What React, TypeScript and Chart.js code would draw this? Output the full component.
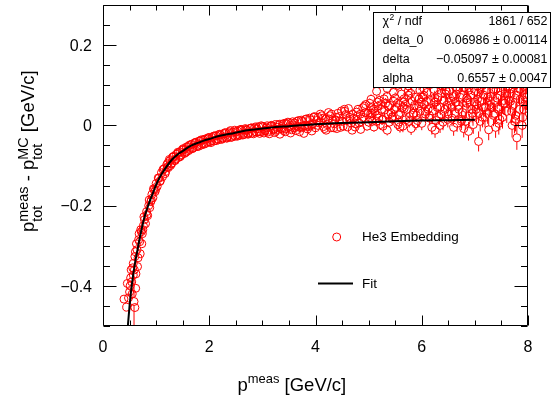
import React, { useEffect, useRef } from 'react';
import { Chart, registerables } from 'chart.js';

Chart.register(...registerables);

// ---- data ----
const pMeas = [
  0.395, 0.446, 0.458, 0.51, 0.53, 0.54, 0.55, 0.57, 0.57, 0.584,
  0.6, 0.6, 0.615, 0.62, 0.63, 0.65, 0.66, 0.67, 0.68, 0.7,
  0.72, 0.73, 0.74, 0.76, 0.78, 0.8, 0.82, 0.84, 0.86, 0.88,
  0.9, 0.92, 0.94, 0.96, 0.98, 1.0, 1.02, 1.05, 1.07, 1.1,
  1.12, 1.15, 1.18, 1.2, 1.23, 1.26, 1.29, 1.32, 1.35, 1.38,
  1.42, 1.45, 1.48, 1.52, 1.55, 1.6, 1.63, 1.67, 1.7, 1.75,
  1.78, 1.83, 1.87, 1.92, 1.96, 2.0, 2.05, 2.1, 2.15, 2.2,
  2.25, 2.3, 2.35, 2.4, 2.45, 2.5, 2.55, 2.6, 2.65, 2.7,
  2.75, 2.8, 2.85, 2.9, 2.95, 3.0, 3.05, 3.1, 3.15, 3.2,
  3.25, 3.3, 3.35, 3.4, 3.45, 3.5, 3.55, 3.6, 3.65, 3.7,
  3.75, 3.8, 3.85, 3.9, 3.95, 4.0,
  4.05, 4.1, 4.15, 4.2, 4.25, 4.3, 4.35, 4.4, 4.45, 4.5,
  4.55, 4.6, 4.65, 4.7, 4.75, 4.8, 4.85, 4.9, 4.95, 5.0,
  5.02, 5.05, 5.1, 5.15, 5.2, 5.25, 5.3, 5.35, 5.4, 5.45,
  5.5, 5.55, 5.6, 5.65, 5.7, 5.75, 5.8, 5.85, 5.9, 5.95,
  6.0, 6.05, 6.1, 6.15, 6.2, 6.25, 6.3, 6.35, 6.4, 6.45,
  6.5, 6.55, 6.6, 6.65, 6.7, 6.75, 6.8, 6.85, 6.88, 6.95,
  7.0, 7.05, 7.07, 7.1, 7.15, 7.2, 7.26, 7.3, 7.35, 7.4,
  7.45, 7.5, 7.55, 7.6, 7.65, 7.7, 7.75, 7.79, 7.85, 7.9,
  7.95,
  4.02, 4.12, 4.22, 4.32, 4.42, 4.52, 4.62, 4.72, 4.82, 4.92,
  5.03, 5.12, 5.22, 5.32, 5.42, 5.52, 5.62, 5.72, 5.82, 5.92,
  6.02, 6.12, 6.22, 6.32, 6.42, 6.52, 6.62, 6.72, 6.82, 6.92,
  7.02, 7.12, 7.22, 7.32, 7.42, 7.52, 7.62, 7.72, 7.82, 7.92,
  7.98,
  5.15, 5.35, 5.55, 5.75, 5.95, 6.15, 6.35, 6.55, 6.75, 6.95,
  7.15, 7.35, 7.55, 7.75, 7.9,
  0.77, 0.83, 0.87, 0.91, 0.95, 0.99, 1.04, 1.08, 1.13, 1.17,
  1.22, 1.27, 1.31, 1.36, 1.41, 1.46, 1.51, 1.57, 1.62, 1.68,
  1.73, 1.8, 1.85, 1.9, 1.98, 2.03, 2.08, 2.13, 2.18, 2.23,
  2.28, 2.33, 2.38, 2.43, 2.48, 2.53, 2.58, 2.63, 2.68, 2.73,
  2.78, 2.83, 2.88, 2.93, 2.98, 3.03, 3.08, 3.13, 3.18, 3.23,
  3.28, 3.33, 3.38, 3.43, 3.48, 3.53, 3.58, 3.63, 3.68, 3.73,
  3.78, 3.83, 3.88, 3.93, 3.98,
  4.07, 4.17, 4.27, 4.37, 4.47, 4.57, 4.67, 4.77, 4.87, 4.97,
  4.09, 4.19, 4.29, 4.39, 4.49, 4.59, 4.69, 4.79, 4.89, 4.99,
  5.07, 5.17, 5.27, 5.37, 5.47, 5.57, 5.67, 5.77, 5.87, 5.97,
  5.09, 5.19, 5.29, 5.39, 5.49, 5.59, 5.69, 5.79, 5.89, 5.99,
  6.07, 6.17, 6.27, 6.37, 6.47, 6.57, 6.67, 6.77, 6.87, 6.97,
  6.09, 6.19, 6.29, 6.39, 6.49, 6.59, 6.69, 6.79, 6.89, 6.99,
  7.07, 7.17, 7.27, 7.37, 7.47, 7.57, 7.67, 7.77, 7.87, 7.97,
  7.09, 7.19, 7.29, 7.39, 7.49, 7.59, 7.69, 7.79, 7.89, 7.99,
  5.04, 5.24, 5.44, 5.64, 5.84, 6.04, 6.24, 6.44, 6.64, 6.84,
  7.04, 7.24, 7.44, 7.64, 7.84,
  0.48, 0.5, 0.52, 0.56, 0.59, 0.61, 0.64, 0.69, 0.71, 0.75,
  1.21, 1.25, 1.29, 1.33, 1.37, 1.41, 1.45, 1.49, 1.53, 1.57,
  1.61, 1.65, 1.69, 1.73, 1.77, 1.81, 1.85, 1.89, 1.93, 1.97,
  2.01, 2.05, 2.09, 2.13, 2.17, 2.21, 2.25, 2.29, 2.33, 2.37,
  2.41, 2.45, 2.49, 2.53, 2.57, 2.61, 2.65, 2.69, 2.73, 2.77,
  2.81, 2.85, 2.89, 2.93, 2.97, 3.01, 3.05, 3.09, 3.13, 3.17,
  3.21, 3.25, 3.29, 3.33, 3.37, 3.41, 3.45, 3.49, 3.53, 3.57,
  3.61, 3.65, 3.69, 3.73, 3.77, 3.81, 3.85, 3.89, 3.93, 3.97,
  4.045, 4.145, 4.245, 4.345, 4.445, 4.545, 4.645, 4.745, 4.845, 4.945,
  5.045, 5.145, 5.245, 5.345, 5.445, 5.545, 5.645, 5.745, 5.845, 5.945,
  6.045, 6.145, 6.245, 6.345, 6.445, 6.545, 6.645, 6.745, 6.845, 6.945,
  7.045, 7.145, 7.245, 7.345, 7.445, 7.545, 7.645, 7.745, 7.845, 7.945,
  5.065, 5.165, 5.265, 5.365, 5.465, 5.565, 5.665, 5.765, 5.865, 5.965,
  6.065, 6.165, 6.265, 6.365, 6.465, 6.565, 6.665, 6.765, 6.865, 6.965,
  7.065, 7.165, 7.265, 7.365, 7.465, 7.565, 7.665, 7.765, 7.865,
];

const dP = [
  -0.433, -0.453, -0.394, -0.4, -0.36, -0.39, -0.42, -0.373, -0.344, -0.439,
  -0.454, -0.327, -0.406, -0.37, -0.295, -0.352, -0.33, -0.285, -0.27, -0.32,
  -0.265, -0.295, -0.27, -0.25, -0.235, -0.245, -0.215, -0.225, -0.2, -0.205,
  -0.19, -0.172, -0.18, -0.16, -0.165, -0.145, -0.152, -0.132, -0.14, -0.118,
  -0.128, -0.108, -0.115, -0.098, -0.105, -0.088, -0.096, -0.079, -0.088, -0.072,
  -0.08, -0.066, -0.073, -0.06, -0.068, -0.053, -0.06, -0.047, -0.055, -0.042,
  -0.05, -0.039, -0.046, -0.034, -0.042, -0.03, -0.038, -0.026, -0.034, -0.022,
  -0.031, -0.018, -0.028, -0.013, -0.025, -0.016, -0.023, -0.01, -0.02, -0.012,
  -0.018, -0.006, -0.015, -0.009, -0.02, -0.004, -0.012, -0.017, -0.002, -0.009,
  -0.015, 0.001, -0.007, -0.013, 0.004, -0.004, -0.011, 0.006, -0.002, -0.016,
  0.01, 0.0, -0.009, 0.014, 0.004, -0.006,
  0.02, 0.008, -0.003, -0.012, 0.016, 0.028, 0.004, -0.008, 0.022, 0.01,
  0.035, -0.004, 0.015, 0.028, 0.004, 0.04, -0.01, 0.02, 0.032, 0.008,
  0.055, 0.044, -0.004, 0.025, 0.062, 0.014, 0.038, -0.012, 0.05, 0.022,
  0.068, 0.002, 0.032, 0.058, 0.014, 0.075, -0.008, 0.044, 0.025, 0.066,
  0.005, 0.052, 0.082, 0.018, 0.036, -0.012, 0.07, 0.045, 0.008, 0.088,
  0.028, 0.06, -0.005, 0.078, 0.04, 0.015, 0.095, 0.055, -0.015, 0.03,
  0.085, 0.065, -0.04, 0.01, 0.1, 0.045, -0.011, 0.072, 0.025, 0.09,
  0.005, 0.14, 0.055, 0.035, 0.08, 0.0, 0.1, -0.031, 0.065, 0.02,
  0.058,
  0.012, 0.024, 0.002, 0.012, 0.03, -0.002, 0.042, 0.018, 0.006, 0.048,
  0.02, 0.035, 0.002, 0.055, 0.03, 0.045, 0.078, 0.04, 0.06, 0.012,
  0.07, 0.04, 0.09, 0.022, 0.062, 0.085, 0.03, 0.07, 0.01, 0.075,
  0.04, 0.06, 0.088, 0.045, 0.068, 0.02, 0.095, 0.05, 0.085, 0.04,
  0.08,
  0.085, 0.092, 0.1, 0.098, 0.105, 0.11, 0.1, 0.115, 0.105, 0.118,
  0.11, 0.12, 0.112, 0.12, 0.115,
  -0.228, -0.222, -0.186, -0.186, -0.158, -0.16, -0.131, -0.138, -0.11, -0.12,
  -0.094, -0.1, -0.079, -0.087, -0.067, -0.076, -0.058, -0.066, -0.05, -0.058,
  -0.043, -0.052, -0.036, -0.047, -0.031, -0.043, -0.027, -0.038, -0.023, -0.035,
  -0.02, -0.032, -0.016, -0.029, -0.012, -0.027, -0.011, -0.024, -0.008, -0.022,
  -0.007, -0.021, -0.004, -0.016, -0.001, -0.019, -0.006, -0.021, -0.001, -0.018,
  -0.005, -0.022, 0.002, -0.016, 0.008, -0.019, 0.001, -0.013, 0.012, -0.006,
  -0.02, 0.016, -0.003, -0.014, 0.022,
  0.006, -0.008, 0.024, 0.014, -0.005, 0.027, 0.006, 0.033, 0.015, -0.002,
  0.028, 0.016, -0.006, 0.02, 0.036, 0.012, -0.012, 0.024, 0.044, 0.03,
  0.01, 0.048, -0.002, 0.028, 0.06, 0.008, 0.042, 0.022, 0.07, 0.035,
  0.04, 0.018, 0.066, 0.008, 0.04, -0.004, 0.052, 0.08, 0.004, 0.058,
  0.028, 0.062, 0.012, 0.08, 0.05, 0.018, 0.092, 0.032, 0.064, 0.002,
  0.06, -0.005, 0.045, 0.098, 0.015, 0.072, 0.05, -0.008, 0.088, 0.058,
  0.03, 0.075, 0.05, 0.102, 0.015, 0.08, 0.06, 0.025, 0.105, 0.07,
  0.095, 0.02, 0.06, -0.005, 0.085, 0.108, 0.035, 0.075, 0.0, 0.05,
  0.03, 0.052, 0.016, 0.045, 0.03, 0.075, 0.058, 0.04, 0.058, 0.042,
  0.052, 0.03, 0.045, 0.062, 0.04,
  -0.43, -0.415, -0.38, -0.355, -0.36, -0.315, -0.31, -0.29, -0.26, -0.26,
  -0.104, -0.085, -0.094, -0.077, -0.084, -0.069, -0.078, -0.061, -0.07, -0.054,
  -0.063, -0.048, -0.057, -0.044, -0.053, -0.039, -0.049, -0.036, -0.045, -0.033,
  -0.041, -0.03, -0.039, -0.026, -0.036, -0.024, -0.033, -0.021, -0.031, -0.019,
  -0.03, -0.017, -0.027, -0.014, -0.025, -0.012, -0.023, -0.01, -0.021, -0.008,
  -0.019, -0.006, -0.017, -0.004, -0.016, -0.003, -0.014, -0.001, -0.012, 0.0,
  -0.011, 0.002, -0.01, 0.003, -0.009, 0.005, -0.008, 0.006, -0.007, 0.009,
  -0.006, 0.01, -0.004, 0.013, -0.003, 0.015, -0.002, 0.018, 0.0, 0.02,
  0.0, 0.018, 0.032, -0.006, 0.01, 0.04, 0.02, -0.004, 0.028, 0.052,
  0.065, 0.01, 0.04, 0.072, 0.02, 0.055, -0.002, 0.085, 0.03, 0.048,
  0.09, 0.025, 0.068, 0.0, 0.078, 0.05, 0.095, 0.01, 0.068, 0.04,
  0.098, 0.02, 0.07, 0.09, 0.04, 0.062, 0.11, 0.01, 0.09, 0.07,
  0.03, 0.058, 0.015, 0.048, 0.082, 0.026, 0.066, 0.01, 0.05, 0.088,
  0.035, 0.102, 0.058, 0.028, 0.085, 0.045, 0.005, 0.075, 0.1, 0.022,
  0.08, 0.045, 0.115, 0.03, 0.075, 0.055, 0.09, 0.015, 0.105,
];

const dPErr = [
  0.008, 0.01, 0.008, 0.008, 0.008, 0.008, 0.01, 0.008, 0.008, 0.06,
  0.01, 0.008, 0.008, 0.008, 0.008, 0.008, 0.008, 0.007, 0.007, 0.008,
  0.007, 0.007, 0.007, 0.007, 0.006, 0.006, 0.006, 0.006, 0.006, 0.006,
  0.006, 0.006, 0.006, 0.005, 0.005, 0.005, 0.005, 0.005, 0.005, 0.005,
  0.005, 0.005, 0.005, 0.005, 0.005, 0.005, 0.005, 0.005, 0.005, 0.005,
  0.005, 0.005, 0.005, 0.005, 0.005, 0.005, 0.005, 0.005, 0.005, 0.005,
  0.005, 0.005, 0.005, 0.005, 0.005, 0.005, 0.005, 0.005, 0.005, 0.005,
  0.005, 0.005, 0.005, 0.005, 0.005, 0.005, 0.005, 0.005, 0.005, 0.005,
  0.006, 0.006, 0.006, 0.006, 0.006, 0.006, 0.006, 0.006, 0.006, 0.006,
  0.006, 0.006, 0.006, 0.006, 0.006, 0.006, 0.007, 0.007, 0.007, 0.007,
  0.007, 0.007, 0.007, 0.007, 0.007, 0.008,
  0.008, 0.008, 0.008, 0.008, 0.008, 0.009, 0.009, 0.009, 0.009, 0.009,
  0.01, 0.01, 0.01, 0.01, 0.01, 0.011, 0.011, 0.011, 0.011, 0.012,
  0.012, 0.012, 0.012, 0.012, 0.013, 0.013, 0.013, 0.013, 0.014, 0.014,
  0.014, 0.014, 0.015, 0.015, 0.015, 0.016, 0.016, 0.016, 0.016, 0.017,
  0.017, 0.017, 0.018, 0.018, 0.018, 0.019, 0.019, 0.019, 0.02, 0.02,
  0.02, 0.021, 0.021, 0.021, 0.022, 0.022, 0.022, 0.023, 0.023, 0.023,
  0.024, 0.024, 0.025, 0.025, 0.025, 0.026, 0.026, 0.026, 0.027, 0.027,
  0.028, 0.14, 0.028, 0.029, 0.029, 0.03, 0.03, 0.03, 0.031, 0.032,
  0.033,
  0.008, 0.008, 0.008, 0.009, 0.009, 0.009, 0.01, 0.01, 0.011, 0.011,
  0.012, 0.012, 0.013, 0.013, 0.014, 0.014, 0.015, 0.015, 0.016, 0.016,
  0.017, 0.018, 0.018, 0.019, 0.02, 0.02, 0.021, 0.022, 0.022, 0.023,
  0.024, 0.025, 0.026, 0.026, 0.027, 0.028, 0.029, 0.03, 0.031, 0.032,
  0.033,
  0.013, 0.014, 0.014, 0.015, 0.017, 0.018, 0.019, 0.021, 0.022, 0.023,
  0.025, 0.026, 0.028, 0.03, 0.032,
  0.005, 0.005, 0.005, 0.005, 0.005, 0.005, 0.005, 0.005, 0.005, 0.005,
  0.005, 0.005, 0.005, 0.005, 0.005, 0.005, 0.005, 0.005, 0.005, 0.005,
  0.005, 0.005, 0.005, 0.005, 0.005, 0.005, 0.005, 0.005, 0.005, 0.005,
  0.005, 0.005, 0.005, 0.005, 0.005, 0.005, 0.005, 0.005, 0.005, 0.005,
  0.005, 0.005, 0.005, 0.005, 0.005, 0.006, 0.006, 0.006, 0.006, 0.006,
  0.006, 0.006, 0.006, 0.006, 0.006, 0.007, 0.007, 0.007, 0.007, 0.007,
  0.007, 0.007, 0.007, 0.007, 0.007,
  0.008, 0.008, 0.009, 0.009, 0.009, 0.01, 0.01, 0.011, 0.011, 0.011,
  0.008, 0.008, 0.009, 0.009, 0.009, 0.01, 0.01, 0.011, 0.011, 0.011,
  0.012, 0.012, 0.013, 0.013, 0.014, 0.014, 0.015, 0.015, 0.016, 0.016,
  0.012, 0.012, 0.013, 0.013, 0.014, 0.014, 0.015, 0.015, 0.016, 0.016,
  0.017, 0.018, 0.018, 0.019, 0.02, 0.02, 0.021, 0.022, 0.022, 0.023,
  0.017, 0.018, 0.018, 0.019, 0.02, 0.02, 0.021, 0.022, 0.022, 0.023,
  0.024, 0.025, 0.026, 0.026, 0.027, 0.028, 0.029, 0.03, 0.031, 0.032,
  0.024, 0.025, 0.026, 0.026, 0.027, 0.028, 0.029, 0.03, 0.031, 0.032,
  0.012, 0.013, 0.014, 0.015, 0.016, 0.017, 0.018, 0.02, 0.021, 0.022,
  0.024, 0.026, 0.027, 0.029, 0.031,
  0.008, 0.008, 0.008, 0.008, 0.008, 0.008, 0.008, 0.008, 0.008, 0.008,
  0.005, 0.005, 0.005, 0.005, 0.005, 0.005, 0.005, 0.005, 0.005, 0.005,
  0.005, 0.005, 0.005, 0.005, 0.005, 0.005, 0.005, 0.005, 0.005, 0.005,
  0.005, 0.005, 0.005, 0.005, 0.005, 0.005, 0.005, 0.005, 0.005, 0.005,
  0.005, 0.005, 0.005, 0.005, 0.005, 0.005, 0.005, 0.005, 0.005, 0.005,
  0.005, 0.005, 0.005, 0.005, 0.005, 0.006, 0.006, 0.006, 0.006, 0.006,
  0.006, 0.006, 0.006, 0.006, 0.006, 0.006, 0.006, 0.006, 0.007, 0.007,
  0.007, 0.007, 0.007, 0.007, 0.007, 0.007, 0.007, 0.007, 0.007, 0.007,
  0.008, 0.008, 0.009, 0.009, 0.009, 0.01, 0.01, 0.011, 0.011, 0.011,
  0.012, 0.012, 0.013, 0.013, 0.014, 0.014, 0.015, 0.015, 0.016, 0.016,
  0.017, 0.018, 0.018, 0.019, 0.02, 0.02, 0.021, 0.022, 0.022, 0.023,
  0.024, 0.025, 0.026, 0.026, 0.027, 0.028, 0.029, 0.03, 0.031, 0.032,
  0.012, 0.012, 0.013, 0.013, 0.014, 0.014, 0.015, 0.015, 0.016, 0.016,
  0.017, 0.018, 0.018, 0.019, 0.02, 0.02, 0.021, 0.022, 0.022, 0.023,
  0.024, 0.025, 0.026, 0.026, 0.027, 0.028, 0.029, 0.03, 0.031,
];

// fit curve
const fitP = [
  0.455, 0.5, 0.54, 0.6, 0.65, 0.7, 0.75, 0.8, 0.85, 0.9,
  0.95, 1.0, 1.1, 1.2, 1.3, 1.4, 1.5, 1.6, 1.7, 1.8,
  1.9, 2.0, 2.2, 2.4, 2.6, 2.8, 3.0, 3.25, 3.5, 4.0,
  4.5, 5.0, 5.5, 6.0, 6.5, 7.0,
];
const fitD = [
  -0.52, -0.45, -0.4, -0.345, -0.31, -0.275, -0.245, -0.22, -0.2, -0.182,
  -0.165, -0.148, -0.122, -0.102, -0.085, -0.073, -0.064, -0.055, -0.048, -0.043,
  -0.038, -0.034, -0.026, -0.021, -0.015, -0.011, -0.008, -0.004, -0.002, 0.003,
  0.006, 0.008, 0.01, 0.012, 0.013, 0.014,
];

const xTickValues = [0, 2, 4, 6, 8];
const yTickValues = [-0.4, -0.2, 0, 0.2];
const statsLabels = ['χ', 'delta_0', 'delta', 'alpha'];
const statsValues = ['1861 / 652', '0.06986 ± 0.00114', '−0.05097 ± 0.00081', '0.6557 ± 0.0047'];
const legendLabels = ['He3 Embedding', 'Fit'];

const FONT = '"Liberation Sans", Arial, Helvetica, sans-serif';
const RED = 'rgb(255,0,0)';
const R = 4;

type Piece = { t?: string; sup?: string; sub?: string };

function drawRich(
  ctx: CanvasRenderingContext2D, pieces: Piece[], x: number, y: number, size: number,
  ratio: number, supDy: number, subDy: number,
) {
  let cx = x;
  ctx.textAlign = 'left';
  ctx.textBaseline = 'alphabetic';
  for (const p of pieces) {
    if (p.t) {
      ctx.font = `${size}px ${FONT}`;
      ctx.fillText(p.t, cx, y);
      cx += ctx.measureText(p.t).width;
    } else {
      const s = size * ratio;
      ctx.font = `${s}px ${FONT}`;
      let w = 0;
      if (p.sup) {
        ctx.fillText(p.sup, cx, y - size * supDy);
        w = Math.max(w, ctx.measureText(p.sup).width);
      }
      if (p.sub) {
        ctx.fillText(p.sub, cx, y + size * subDy);
        w = Math.max(w, ctx.measureText(p.sub).width);
      }
      cx += w;
    }
  }
}

const fmt = (v: number) => {
  if (Math.abs(v) < 1e-9) return '0';
  const s = String(Math.round(Math.abs(v) * 100) / 100);
  return v < 0 ? '−' + s : s;
};

const rootPlugin = {
  id: 'rootStyle',
  beforeDatasetsDraw(chart: any) {
    const { ctx, chartArea: a, scales } = chart;
    const xs = scales.x, ys = scales.y;
    ctx.save();
    ctx.beginPath();
    ctx.rect(a.left, a.top, a.right - a.left, a.bottom - a.top);
    ctx.clip();
    ctx.strokeStyle = RED;
    ctx.lineWidth = 1;
    ctx.beginPath();
    for (let i = 0; i < pMeas.length; i++) {
      const px = xs.getPixelForValue(pMeas[i]);
      const py = ys.getPixelForValue(dP[i]);
      const up = ys.getPixelForValue(dP[i] + dPErr[i]);
      const dn = ys.getPixelForValue(dP[i] - dPErr[i]);
      if (py - up > R) { ctx.moveTo(px, py - R); ctx.lineTo(px, up); }
      if (dn - py > R) { ctx.moveTo(px, py + R); ctx.lineTo(px, dn); }
    }
    ctx.stroke();
    ctx.restore();
  },
  afterDatasetsDraw(chart: any) {
    const { ctx, chartArea: a, scales } = chart;
    const xs = scales.x, ys = scales.y;
    const L = Math.round(a.left) + 0.5, Rr = Math.round(a.right) - 0.5;
    const T = Math.round(a.top) + 0.5, B = Math.round(a.bottom) - 0.5;
    ctx.save();
    ctx.strokeStyle = '#000';
    ctx.lineWidth = 1;
    ctx.beginPath();
    ctx.rect(L, T, Rr - L, B - T);
    for (let i = 0; i <= 16; i++) {
      const v = i * 0.5;
      const px = Math.round(xs.getPixelForValue(v)) + 0.5;
      const len = i % 4 === 0 ? 10 : 5;
      ctx.moveTo(px, B); ctx.lineTo(px, B - len);
      ctx.moveTo(px, T); ctx.lineTo(px, T + len);
    }
    for (let j = -10; j <= 6; j++) {
      const v = j * 0.05;
      const py = Math.round(ys.getPixelForValue(v)) + 0.5;
      const len = j % 4 === 0 ? 13 : 6.5;
      ctx.moveTo(L, py); ctx.lineTo(L + len, py);
      ctx.moveTo(Rr, py); ctx.lineTo(Rr - len, py);
    }
    ctx.stroke();

    ctx.fillStyle = '#000';
    ctx.font = `16px ${FONT}`;
    ctx.textBaseline = 'alphabetic';
    ctx.textAlign = 'center';
    for (const v of xTickValues) {
      ctx.fillText(fmt(v), xs.getPixelForValue(v), 351.5);
    }
    ctx.textAlign = 'right';
    for (const v of yTickValues) {
      ctx.fillText(fmt(v), 92, ys.getPixelForValue(v) + 5.7);
    }
    ctx.restore();
  },
  afterDraw(chart: any) {
    const { ctx } = chart;
    ctx.save();
    ctx.fillStyle = '#000';
    drawRich(ctx, [{ t: 'p' }, { sup: 'meas' }, { t: ' [GeV/c]' }], 237.5, 391, 18.5, 0.7, 0.42, 0.38);
    ctx.save();
    ctx.translate(34, 232);
    ctx.rotate(-Math.PI / 2);
    drawRich(
      ctx,
      [{ t: 'p' }, { sup: 'meas', sub: 'tot' }, { t: ' - p' }, { sup: 'MC', sub: 'tot' }, { t: ' [GeV/c]' }],
      0, 0, 18.5, 0.78, 0.32, 0.45,
    );
    ctx.restore();

    // stats box
    ctx.fillStyle = '#fff';
    ctx.fillRect(373.5, 12.5, 177, 75);
    ctx.strokeStyle = '#000';
    ctx.lineWidth = 1;
    ctx.strokeRect(373.5, 12.5, 177, 75);
    ctx.fillStyle = '#000';
    const rows = [25, 44.2, 63.4, 82.4];
    ctx.textBaseline = 'alphabetic';
    for (let i = 0; i < statsLabels.length; i++) {
      ctx.textAlign = 'left';
      ctx.font = `12.5px ${FONT}`;
      if (i === 0) {
        ctx.fillText(statsLabels[0], 382.5, rows[0]);
        const w = ctx.measureText(statsLabels[0]).width;
        ctx.font = `8.5px ${FONT}`;
        ctx.fillText('2', 382.5 + w + 0.5, rows[0] - 5);
        const w2 = ctx.measureText('2').width;
        ctx.font = `12.5px ${FONT}`;
        ctx.fillText(' / ndf', 382.5 + w + w2 + 0.5, rows[0]);
      } else {
        ctx.fillText(statsLabels[i], 382.5, rows[i]);
      }
      ctx.textAlign = 'right';
      ctx.fillText(statsValues[i], 547.5, rows[i]);
    }

    // legend
    ctx.strokeStyle = RED;
    ctx.lineWidth = 1;
    ctx.beginPath();
    ctx.arc(336.7, 237, R, 0, Math.PI * 2);
    ctx.stroke();
    ctx.strokeStyle = '#000';
    ctx.lineWidth = 2;
    ctx.beginPath();
    ctx.moveTo(318, 283.5);
    ctx.lineTo(353, 283.5);
    ctx.stroke();
    ctx.fillStyle = '#000';
    ctx.font = `13.5px ${FONT}`;
    ctx.textAlign = 'left';
    ctx.textBaseline = 'middle';
    ctx.fillText(legendLabels[0], 362, 237.5);
    ctx.fillText(legendLabels[1], 362, 284);
    ctx.restore();
  },
};

export default function App() {
  const ref = useRef<HTMLCanvasElement>(null);
  useEffect(() => {
    const canvas = ref.current;
    if (!canvas) return;
    const chart = new Chart(canvas, {
      type: 'scatter',
      data: {
        datasets: [
          {
            type: 'line',
            label: legendLabels[1],
            data: fitP.map((x, i) => ({ x, y: fitD[i] })),
            borderColor: '#000',
            borderWidth: 2,
            pointRadius: 0,
            fill: false,
            cubicInterpolationMode: 'monotone',
            clip: 0,
          } as any,
          {
            type: 'scatter',
            label: legendLabels[0],
            data: pMeas.map((x, i) => ({ x, y: dP[i] })),
            borderColor: RED,
            backgroundColor: 'rgba(0,0,0,0)',
            pointStyle: 'circle',
            pointRadius: R,
            pointBorderWidth: 1,
            showLine: false,
            clip: 0,
          } as any,
        ],
      },
      options: {
        responsive: false,
        animation: false,
        devicePixelRatio: 1,
        events: [],
        layout: { padding: { left: 0, right: 23, top: 3, bottom: 0 } },
        plugins: { legend: { display: false }, tooltip: { enabled: false } },
        scales: {
          x: {
            type: 'linear',
            min: 0,
            max: 8,
            afterBuildTicks: (s: any) => { s.ticks = xTickValues.map((v) => ({ value: v })); },
            afterFit: (s: any) => { s.height = 74; },
            grid: { display: false, drawTicks: false },
            border: { display: false },
            ticks: { display: false },
          },
          y: {
            type: 'linear',
            min: -0.5,
            max: 0.3,
            afterBuildTicks: (s: any) => { s.ticks = yTickValues.map((v) => ({ value: v })); },
            afterFit: (s: any) => { s.width = 103; },
            grid: { display: false, drawTicks: false },
            border: { display: false },
            ticks: { display: false },
          },
        },
      } as any,
      plugins: [rootPlugin],
    });
    return () => chart.destroy();
  }, []);
  return (
    <div style={{ position: 'absolute', left: 0, top: 0, width: 551, height: 400, background: '#fff' }}>
      <canvas ref={ref} width={551} height={400} style={{ display: 'block', width: 551, height: 400 }} />
    </div>
  );
}
